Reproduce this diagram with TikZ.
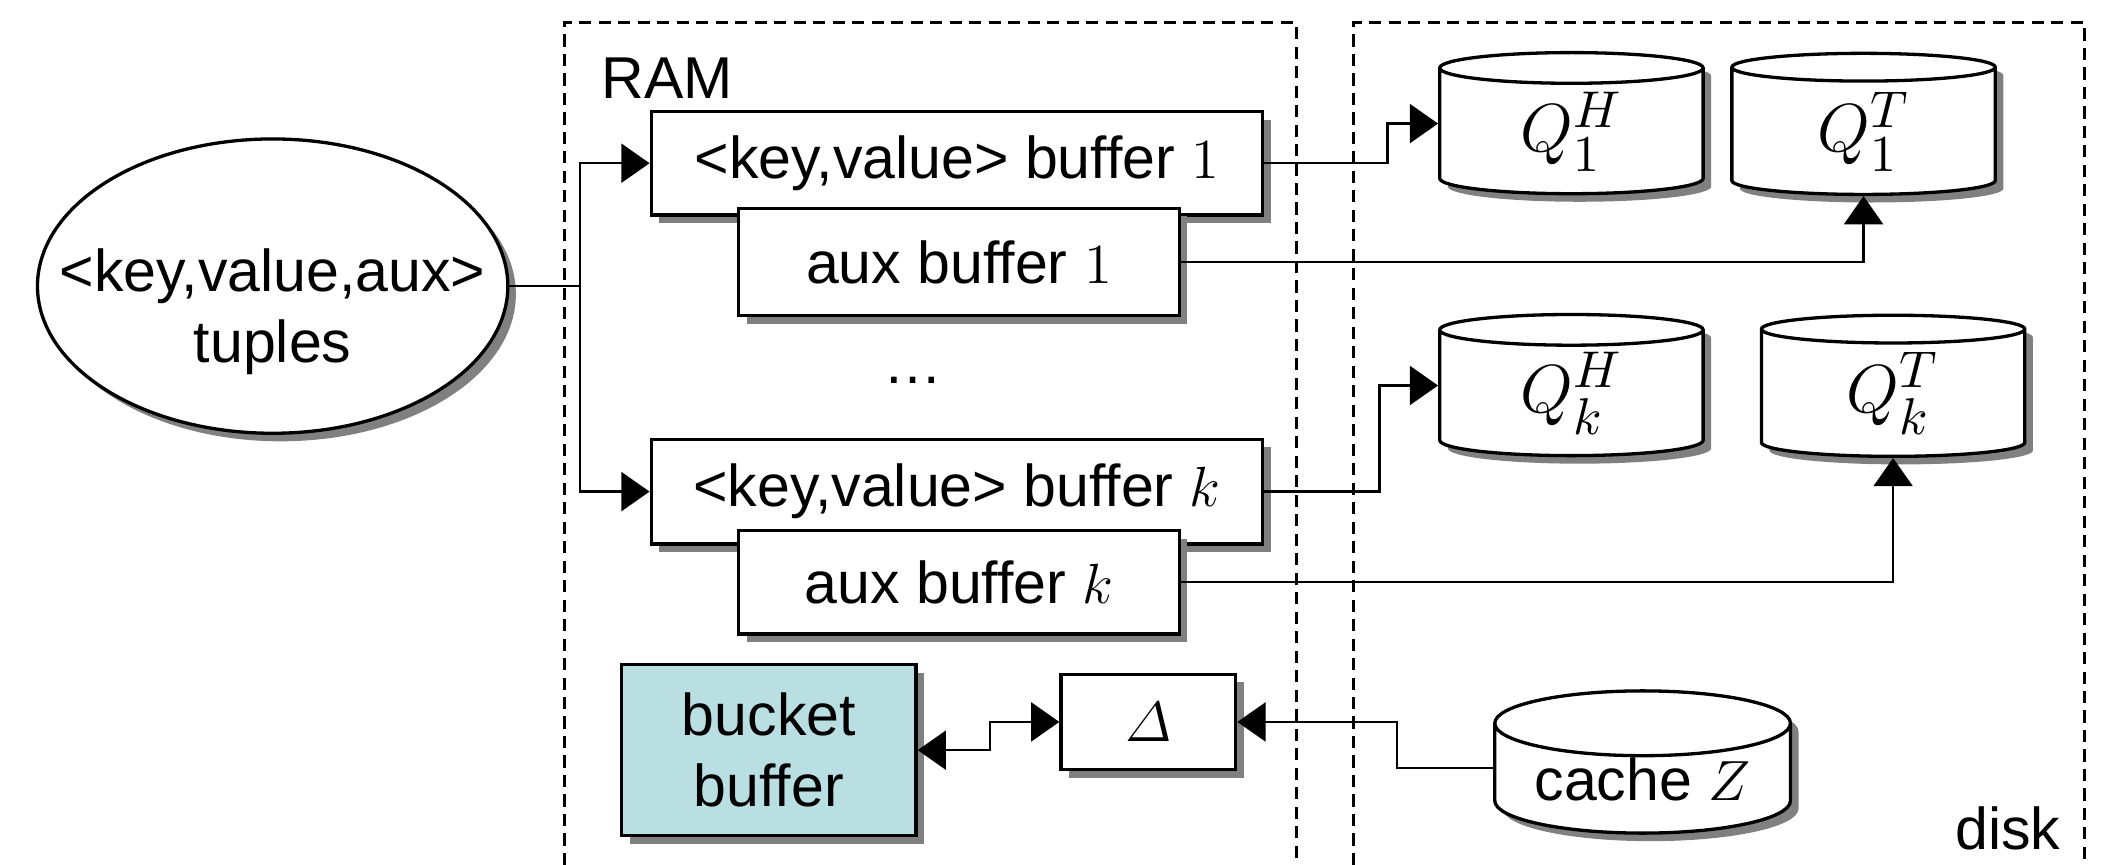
\documentclass[tikz,border=0pt]{standalone}
\usepackage{amsmath}
\usepackage[no-math]{fontspec}
\setmainfont{Liberation Sans}
\usetikzlibrary{shapes.geometric,shadows,arrows.meta,calc}
\definecolor{bucketfill}{HTML}{B9DFE2}
\begin{document}
\begin{tikzpicture}[x=0.01cm,y=-0.01cm,
  txt/.style={font=\fontsize{12.5}{15}\selectfont},
  qtxt/.style={font=\fontsize{15}{18}\selectfont},
  shad/.style={drop shadow={shadow xshift=0.6mm,shadow yshift=-0.6mm,fill=black!50,opacity=1}},
  box/.style={draw, line width=0.7pt, fill=white, inner sep=0pt, shad},
  db/.style={cylinder, shape border rotate=90, aspect=0.3, draw, line width=0.7pt, fill=white, inner sep=0pt, shad},
  conn/.style={line width=0.5pt},
  arr/.style={conn,-{Triangle[length=2.1mm,width=2.9mm]}},
  arrboth/.style={conn,{Triangle[length=2.1mm,width=2.9mm]}-{Triangle[length=2.1mm,width=2.9mm]}},
  zone/.style={dash pattern=on 0.9mm off 0.55mm, line width=0.6pt}]
\useasboundingbox (0,0) rectangle (1568,644);
% zones
\draw[zone] (420,644) -- (420,17) -- (965,17) -- (965,644);
\draw[zone] (1008,644) -- (1008,17) -- (1552,17) -- (1552,644);
\node[txt] (ram) at (497,58) {RAM};
\node[txt] (disk) at (1495,617) {disk};
% junction coordinates
\coordinate (bus) at (432,0);
\coordinate (j1) at (1033,0);
\coordinate (jk) at (1027,0);
\coordinate (jb) at (737,0);
\coordinate (jc) at (1040,0);
% nodes
\node[box, ellipse, minimum width=3.5cm, minimum height=2.19cm] (tup) at (203,213) {};
\node[txt, align=center] (tuptxt) at (203,232) {<key,value,aux>\\tuples};
\node[box, txt, minimum width=4.55cm, minimum height=0.77cm] (kv1) at (712.5,121.5) {<key,value> buffer $1$};
\node[box, txt, minimum width=3.28cm, minimum height=0.8cm] (aux1) at (714,195) {aux buffer $1$};
\node[txt] (dots) at (680,283) {\dots};
\node[box, txt, minimum width=4.55cm, minimum height=0.78cm] (kvk) at (712.5,366) {<key,value> buffer $k$};
\node[box, txt, minimum width=3.28cm, minimum height=0.77cm] (auxk) at (714,433.5) {aux buffer $k$};
\node[box, txt, fill=bucketfill, minimum width=2.19cm, minimum height=1.27cm, align=center] (bb) at (572.5,558.5) {bucket\\buffer};
\node[box, txt, minimum width=1.3cm, minimum height=0.71cm] (delta) at (855,537.5) {$\varDelta$};
\node[db, qtxt, minimum width=1.96cm, minimum height=1.05cm] (q1h) at (1170,98) {$Q_1^H$};
\node[db, qtxt, minimum width=1.96cm, minimum height=1.05cm] (q1t) at (1387.5,98) {$Q_1^T$};
\node[db, qtxt, minimum width=1.96cm, minimum height=1.05cm] (qkh) at (1170,293) {$Q_k^H$};
\node[db, qtxt, minimum width=1.96cm, minimum height=1.05cm] (qkt) at (1409.5,293) {$Q_k^T$};
\node[db, txt, minimum width=2.2cm, minimum height=1.02cm] (cache) at (1223,580) {cache $Z$};
\coordinate (cachein) at ($(cache.west)+(0,-8)$);
% connectors
\draw[arr] (tup.east) -- (tup.east -| bus) |- (kv1.west);
\draw[arr] (tup.east -| bus) |- (kvk.west);
\draw[arr] (kv1.east) -- (kv1.east -| j1) |- ($(q1h.west)+(0,-6)$);
\draw[arr] (aux1.east) -| (q1t.-90);
\draw[arr] (kvk.east) -- (kvk.east -| jk) |- ($(qkh.west)+(0,-6)$);
\draw[arr] (auxk.east) -| (qkt.-90);
\draw[arrboth] (bb.east) -- (bb.east -| jb) |- (delta.west);
\draw[arr] (cachein) -- (cachein -| jc) |- (delta.east);
\end{tikzpicture}
\end{document}
